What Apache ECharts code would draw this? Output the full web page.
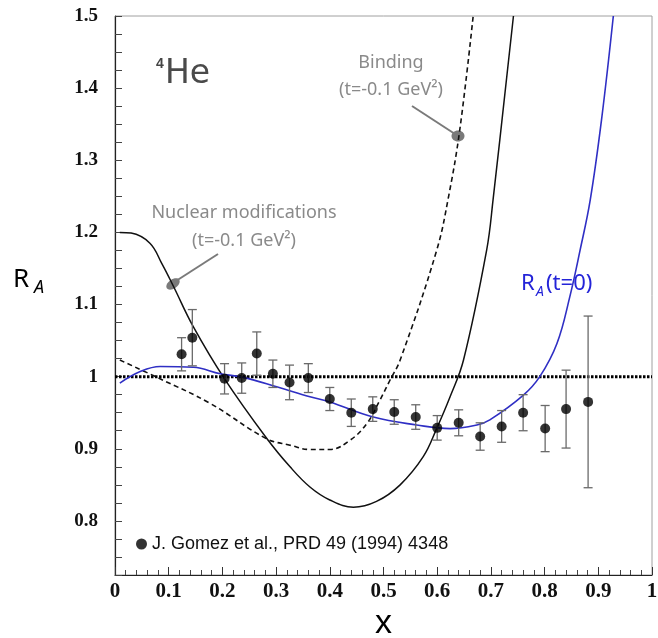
<!DOCTYPE html>
<html><head><meta charset="utf-8">
<script src="https://cdn.jsdelivr.net/npm/echarts@6/dist/echarts.min.js"></script>
<style>html,body{margin:0;padding:0;background:#fff}#c{width:658px;height:638px}</style>
</head><body><div id="c"></div>
<script>
// Data: J. Gomez et al. points (x, R_A, error)
const gomezX = [0.124,0.144,0.204,0.236,0.264,0.294,0.325,0.360,0.400,0.440,0.480,0.520,0.560,0.600,0.640,0.680,0.720,0.760,0.801,0.840,0.881];
const gomezR = [1.031,1.054,0.997,0.998,1.032,1.004,0.992,0.998,0.969,0.950,0.955,0.951,0.944,0.929,0.936,0.917,0.931,0.950,0.928,0.955,0.965];
const gomezErr = [0.023,0.039,0.021,0.021,0.030,0.019,0.024,0.020,0.016,0.019,0.017,0.017,0.017,0.017,0.018,0.019,0.022,0.025,0.032,0.054,0.119];

// Nuclear modifications curve (t = -0.1 GeV^2), solid black
const nucX = [0.009,0.03,0.065,0.087,0.109,0.146,0.204,0.282,0.326,0.363,0.400,0.444,0.487,0.531,0.574,0.599,0.624,0.649,0.692,0.704,0.742];
const nucY = [1.200,1.199,1.185,1.157,1.125,1.069,0.997,0.915,0.875,0.847,0.829,0.819,0.827,0.850,0.889,0.928,0.972,1.023,1.175,1.245,1.500];

// Binding curve (t = -0.1 GeV^2), dashed black
const bindX = [0.009,0.084,0.177,0.282,0.326,0.363,0.400,0.438,0.469,0.493,0.512,0.531,0.599,0.621,0.642,0.667];
const bindY = [1.023,0.997,0.963,0.914,0.905,0.899,0.899,0.912,0.935,0.967,0.995,1.023,1.175,1.249,1.342,1.500];

// R_A(t=0) curve, blue
const raX = [0.009,0.047,0.084,0.146,0.196,0.239,0.301,0.363,0.400,0.481,0.562,0.624,0.674,0.698,0.760,0.791,0.823,0.847,0.866,0.885,0.906,0.928];
const raY = [0.991,1.007,1.014,1.013,1.004,0.999,0.986,0.972,0.965,0.944,0.933,0.928,0.933,0.940,0.974,1.000,1.046,1.111,1.175,1.245,1.356,1.500];

// Unity reference line
const unityX = [0, 1];
const unityY = [1, 1];

const xTickLabels = ['0','0.1','0.2','0.3','0.4','0.5','0.6','0.7','0.8','0.9','1'];
const yTickLabels = ['0.8','0.9','1','1.1','1.2','1.3','1.4','1.5'];

const legendName = 'J. Gomez et al., PRD 49 (1994) 4348';
const zip = (xs, ys) => xs.map((x, i) => [x, ys[i]]);

const chart = echarts.init(document.getElementById('c'), null, {renderer: 'canvas'});
const annFont = '"Noto Sans", sans-serif';
const gray = '#8a8a8a';

const option = {
  animation: false,
  backgroundColor: '#fff',
  grid: {left: 115, right: 6, top: 16, bottom: 63, show: true, borderColor: '#a0a0a0', borderWidth: 1,
         containLabel: false, outerBoundsMode: 'none'},
  legend: {
    data: [legendName], left: 131, top: 530, icon: 'circle', itemWidth: 11, itemHeight: 11,
    textStyle: {fontFamily: '"Liberation Sans", Arial, sans-serif', fontSize: 18, color: '#111'}
  },
  xAxis: {
    type: 'value', min: 0, max: 1, interval: 0.1,
    axisLine: {show: true, lineStyle: {color: '#222', width: 1.2}},
    axisTick: {show: true, inside: true, length: 8, lineStyle: {color: '#333'}},
    minorTick: {show: true, splitNumber: 5, length: 5, lineStyle: {color: '#444'}},
    splitLine: {show: false},
    axisLabel: {
      margin: 6, fontFamily: '"Liberation Serif", "Times New Roman", serif', fontWeight: 'bold', fontSize: 21, color: '#111',
      formatter: v => { const i = Math.round(v * 10); return Math.abs(v * 10 - i) < 1e-6 ? xTickLabels[i] : ''; }
    },
    name: 'x', nameLocation: 'middle', nameGap: 30,
    nameTextStyle: {fontFamily: '"Liberation Sans", Arial, sans-serif', fontSize: 34, color: '#000'}
  },
  yAxis: {
    type: 'value', min: 0.725, max: 1.5, interval: 0.025,
    axisLine: {show: true, lineStyle: {color: '#222', width: 1.2}},
    axisTick: {show: true, inside: true, length: 7, lineStyle: {color: '#444'}},
    splitLine: {show: false},
    axisLabel: {
      margin: 17, fontFamily: '"Liberation Serif", "Times New Roman", serif', fontWeight: 'bold', fontSize: 19, color: '#111',
      formatter: v => {
        const k = Math.round(v * 10);
        if (Math.abs(v * 10 - k) > 1e-6) return '';
        const idx = k - 8;
        return (idx >= 0 && idx < yTickLabels.length) ? yTickLabels[idx] : '';
      }
    }
  },
  series: [
    {
      type: 'line', data: zip(unityX, unityY), showSymbol: false, silent: true, z: 1,
      lineStyle: {color: '#000', width: 3, type: [2.5, 1.5]}
    },
    {
      type: 'line', data: zip(bindX, bindY), showSymbol: false, smooth: 0.4, z: 2,
      lineStyle: {color: '#111', width: 1.6, type: [5, 3.5]}
    },
    {
      type: 'line', data: zip(nucX, nucY), showSymbol: false, smooth: 0.4, z: 2,
      lineStyle: {color: '#111', width: 1.5}
    },
    {
      type: 'line', data: zip(raX, raY), showSymbol: false, smooth: 0.4, z: 2,
      lineStyle: {color: '#2f2fc4', width: 1.6}
    },
    {
      type: 'custom', z: 3,
      data: gomezX.map((x, i) => [x, gomezR[i], gomezErr[i]]),
      encode: {x: 0, y: 1},
      renderItem: (params, api) => {
        const x = api.value(0), y = api.value(1), e = api.value(2);
        const t = api.coord([x, y + e]), b = api.coord([x, y - e]);
        const w = 4.5;
        const st = {stroke: '#6a6a6a', lineWidth: 1.3};
        return {type: 'group', children: [
          {type: 'line', shape: {x1: t[0], y1: t[1], x2: b[0], y2: b[1]}, style: st},
          {type: 'line', shape: {x1: t[0] - w, y1: t[1], x2: t[0] + w, y2: t[1]}, style: st},
          {type: 'line', shape: {x1: b[0] - w, y1: b[1], x2: b[0] + w, y2: b[1]}, style: st}
        ]};
      }
    },
    {
      name: legendName, type: 'scatter', z: 4,
      data: zip(gomezX, gomezR), symbol: 'circle', symbolSize: 10,
      itemStyle: {color: '#000'}
    }
  ],
  graphic: [
    // 4He label
    {type: 'text', left: 156, top: 57, style: {text: '4', fontFamily: '"Liberation Sans", Arial, sans-serif', fontSize: 14, fontWeight: 'bold', fill: '#444'}},
    {type: 'text', left: 165, top: 58, style: {text: 'He', fontFamily: '"DejaVu Sans", sans-serif', fontSize: 33, fill: '#4a4a4a'}},
    // Binding annotation
    {type: 'text', x: 391, y: 63, style: {text: 'Binding', fontFamily: annFont, fontSize: 18, fill: gray, align: 'center', verticalAlign: 'middle'}},
    {type: 'text', x: 391, y: 90, style: {text: '(t=-0.1 GeV²)', fontFamily: annFont, fontSize: 18, fill: gray, align: 'center', verticalAlign: 'middle'}},
    {type: 'line', shape: {x1: 412, y1: 106, x2: 455, y2: 134}, style: {stroke: '#7a7a7a', lineWidth: 2}},
    {type: 'ellipse', shape: {cx: 458, cy: 136, rx: 6.5, ry: 5.5}, style: {fill: '#7a7a7a'}},
    // Nuclear modifications annotation
    {type: 'text', x: 244, y: 213, style: {text: 'Nuclear modifications', fontFamily: annFont, fontSize: 18, fill: gray, align: 'center', verticalAlign: 'middle'}},
    {type: 'text', x: 244, y: 241, style: {text: '(t=-0.1 GeV²)', fontFamily: annFont, fontSize: 18, fill: gray, align: 'center', verticalAlign: 'middle'}},
    {type: 'line', shape: {x1: 218, y1: 254, x2: 176, y2: 281}, style: {stroke: '#7a7a7a', lineWidth: 2}},
    {type: 'ellipse', shape: {cx: 0, cy: 0, rx: 7.5, ry: 4.5}, x: 173, y: 284, rotation: 0.6, style: {fill: '#7a7a7a'}},
    // R_A axis title
    {type: 'text', x: 13, y: 280, style: {text: 'R', fontFamily: annFont, fontSize: 26, fill: '#000', verticalAlign: 'middle'}},
    {type: 'text', x: 34, y: 288, style: {text: 'A', fontFamily: annFont, fontSize: 18, fontStyle: 'italic', fill: '#000', verticalAlign: 'middle'}},
    // R_A(t=0) label
    {type: 'text', x: 521, y: 284, style: {text: 'R', fontFamily: annFont, fontSize: 22, fill: '#2424d8', verticalAlign: 'middle'}},
    {type: 'text', x: 536, y: 292, style: {text: 'A', fontFamily: annFont, fontSize: 14, fontStyle: 'italic', fill: '#2424d8', verticalAlign: 'middle'}},
    {type: 'text', x: 546, y: 284, style: {text: '(t=0)', fontFamily: annFont, fontSize: 22, fill: '#2424d8', verticalAlign: 'middle'}}
  ]
};
chart.setOption(option);
</script>
</body></html>
